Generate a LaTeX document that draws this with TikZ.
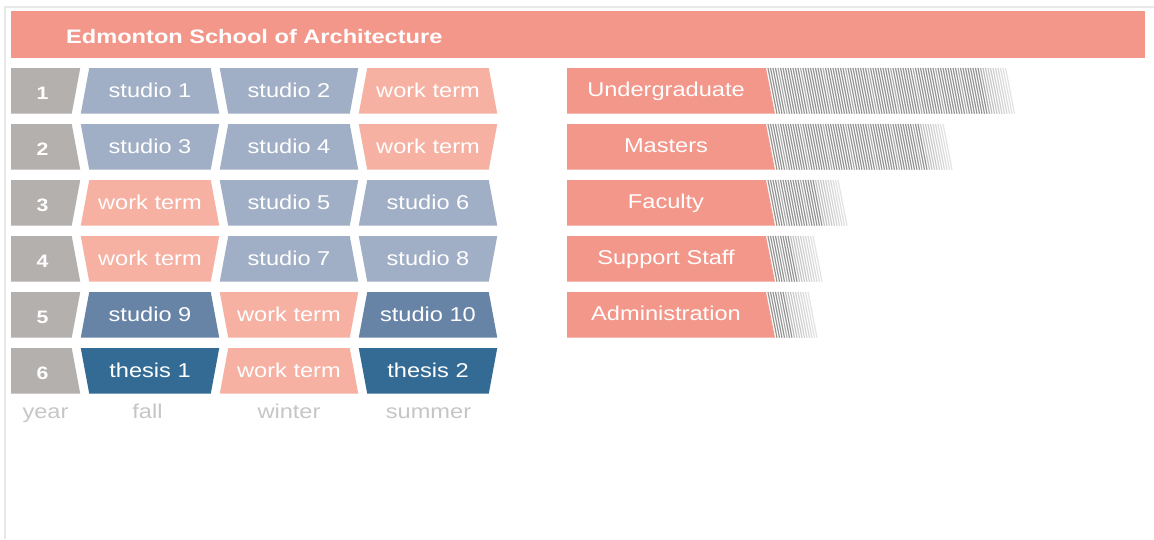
\documentclass[tikz,border=0pt]{standalone}
\usepackage{fontspec}
\setmainfont{Liberation Sans}[FakeStretch=1.18]
\newfontfamily\titlefont{Liberation Sans}[FakeStretch=1.21]

\definecolor{headsalmon}{HTML}{F3978A}
\definecolor{yeargray}{HTML}{B4B0AE}
\definecolor{studiolight}{HTML}{A1AFC6}
\definecolor{studiomid}{HTML}{6784A7}
\definecolor{thesisblue}{HTML}{346B95}
\definecolor{workpink}{HTML}{F6B1A3}
\definecolor{axisgray}{HTML}{C6C6C6}
\definecolor{framegray}{HTML}{E8E8E8}

% one term cell of the programme grid: name, column (1-3), row (1-6), fill, text
\newcommand{\termcell}[5]{%
  \pgfmathsetmacro\rowT{68+56*(#3-1)}%
  \pgfmathsetmacro\rowB{\rowT+45.7}%
  \pgfmathsetmacro\sl{ifthenelse(mod(#2+#3,2)==0,4.25,-4.25)}%
  \pgfmathsetmacro\xL{80.5+139*(#2-1)+4.5}%
  \pgfmathsetmacro\xR{80.5+139*#2-4.5}%
  \pgfmathsetmacro\xLT{\xL+\sl}\pgfmathsetmacro\xLB{\xL-\sl}%
  \pgfmathsetmacro\xRT{\xR-\sl}\pgfmathsetmacro\xRB{\xR+\sl}%
  \pgfmathsetmacro\xC{(\xL+\xR)/2}%
  \fill[#4] (\xLT,\rowT) -- (\xRT,\rowT) -- (\xRB,\rowB) -- (\xLB,\rowB) -- cycle;
  \node[celltext] (#1) at (\xC,\rowT+29.5) {#5};
}

% year number cell: name, row, text
\newcommand{\yearcell}[3]{%
  \pgfmathsetmacro\rowT{68+56*(#2-1)}%
  \pgfmathsetmacro\rowB{\rowT+45.7}%
  \pgfmathsetmacro\sl{ifthenelse(mod(1+#2,2)==0,4.25,-4.25)}%
  \pgfmathsetmacro\xRT{76+\sl}\pgfmathsetmacro\xRB{76-\sl}%
  \fill[yeargray] (11,\rowT) -- (\xRT,\rowT) -- (\xRB,\rowB) -- (11,\rowB) -- cycle;
  \node[yeartext] (#1) at (42.5,\rowT+31) {#3};
}

% staff count bar with hatched tail: name, row, end of hatching (top), label
\newcommand{\staffbar}[4]{%
  \pgfmathsetmacro\rowT{68+56*(#2-1)}%
  \pgfmathsetmacro\rowB{\rowT+45.7}%
  \fill[headsalmon] (567,\rowT) -- (766,\rowT) -- (775,\rowB) -- (567,\rowB) -- cycle;
  \pgfmathtruncatemacro\nh{(#3-768)/2.5}%
  \foreach \i in {0,...,\nh}{%
    \pgfmathsetmacro\hx{768+2.5*\i}%
    \pgfmathtruncatemacro\sh{ifthenelse(\i>\nh-10,28-1.7*(\i-\nh+10),ifthenelse(mod(\i,9)==4,32,42))}%
    \draw[hatchline, black!\sh] (\hx,\rowT) -- (\hx+9,\rowB);
  }
  \node[celltext] (#1) at (666,\rowT+28.7) {#4};
}

\begin{document}
\begin{tikzpicture}[x=1pt,y=-1pt,
  celltext/.style={anchor=base, inner sep=0pt, text=white,
    font=\fontsize{20}{22}\selectfont},
  yeartext/.style={anchor=base, inner sep=0pt, text=white,
    font=\fontsize{18}{20}\selectfont\bfseries},
  axislabel/.style={anchor=base, inner sep=0pt, text=axisgray,
    font=\fontsize{20}{22}\selectfont},
  hatchline/.style={line width=1.2pt},
  frameline/.style={draw=framegray, line width=1.8pt}]
\useasboundingbox (0,0) rectangle (1154,539);
\fill[white] (0,0) rectangle (1154,539);

% outer frame
\draw[frameline] (4.8,539) -- (4.8,7) -- (1154,7);

% title bar
\fill[headsalmon] (11,11) rectangle (1145,58);
\node[anchor=base west, inner sep=0pt, text=white,
  font=\titlefont\fontsize{19.5}{22}\selectfont\bfseries] (title) at (66,43.3)
  {Edmonton School of Architecture};

% programme grid
\yearcell{y1}{1}{1}
\termcell{f1}{1}{1}{studiolight}{studio 1}
\termcell{w1}{2}{1}{studiolight}{studio 2}
\termcell{s1}{3}{1}{workpink}{work term}

\yearcell{y2}{2}{2}
\termcell{f2}{1}{2}{studiolight}{studio 3}
\termcell{w2}{2}{2}{studiolight}{studio 4}
\termcell{s2}{3}{2}{workpink}{work term}

\yearcell{y3}{3}{3}
\termcell{f3}{1}{3}{workpink}{work term}
\termcell{w3}{2}{3}{studiolight}{studio 5}
\termcell{s3}{3}{3}{studiolight}{studio 6}

\yearcell{y4}{4}{4}
\termcell{f4}{1}{4}{workpink}{work term}
\termcell{w4}{2}{4}{studiolight}{studio 7}
\termcell{s4}{3}{4}{studiolight}{studio 8}

\yearcell{y5}{5}{5}
\termcell{f5}{1}{5}{studiomid}{studio 9}
\termcell{w5}{2}{5}{workpink}{work term}
\termcell{s5}{3}{5}{studiomid}{studio 10}

\yearcell{y6}{6}{6}
\termcell{f6}{1}{6}{thesisblue}{thesis 1}
\termcell{w6}{2}{6}{workpink}{work term}
\termcell{s6}{3}{6}{thesisblue}{thesis 2}

% column labels
\node[axislabel] (lyear) at (45.5,418) {year};
\node[axislabel] (lfall) at (147.5,418) {fall};
\node[axislabel] (lwinter) at (289,418) {winter};
\node[axislabel] (lsummer) at (428.5,418) {summer};

% staff bars
\staffbar{ug}{1}{1007}{Undergraduate}
\staffbar{ma}{2}{943}{Masters}
\staffbar{fa}{3}{838}{Faculty}
\staffbar{ss}{4}{813}{Support Staff}
\staffbar{ad}{5}{808}{Administration}
\end{tikzpicture}
\end{document}
